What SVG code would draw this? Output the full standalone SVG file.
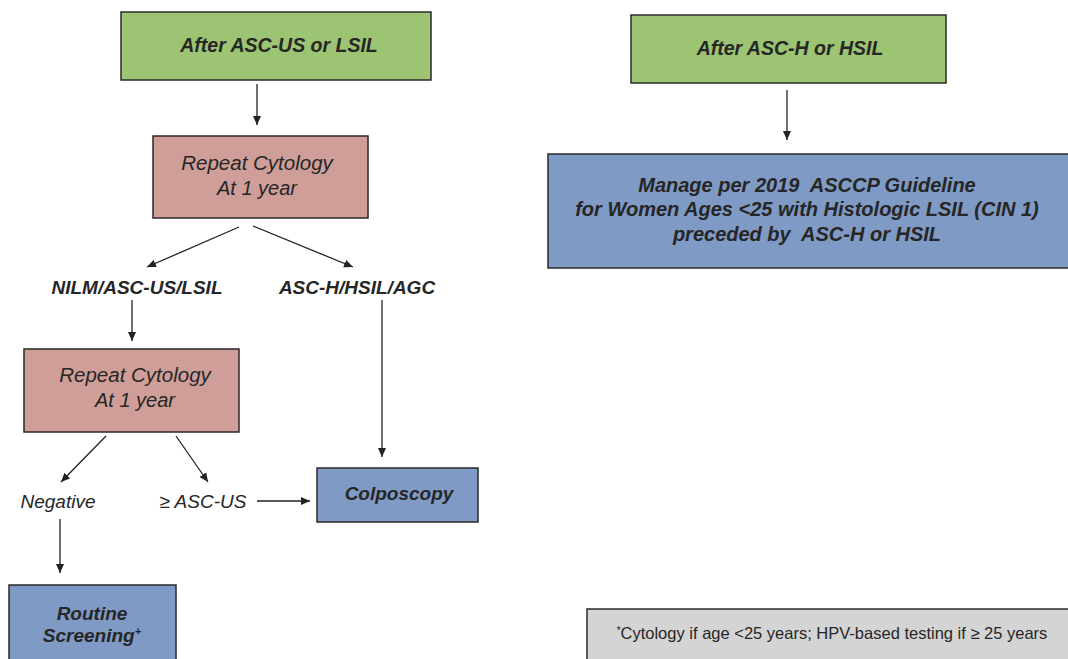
<svg xmlns="http://www.w3.org/2000/svg" width="1068" height="659" viewBox="0 0 1068 659">
<defs>
<marker id="ah" markerWidth="10" markerHeight="10" refX="9" refY="5" orient="auto" markerUnits="userSpaceOnUse">
<path d="M0,1 L9,5 L0,9 Z" fill="#222"/>
</marker>
<style>
.box{stroke:#2a2a2a;stroke-width:1.5}
.green{fill:#9CC472}
.pink{fill:#CF9E98}
.blue{fill:#7F9AC4}
.gray{fill:#D4D4D4}
.t{font-family:"Liberation Sans",Arial,sans-serif;font-style:italic;fill:#262626;text-anchor:middle;white-space:pre}
.b{font-weight:bold}
.c{stroke:#222;stroke-width:1.3;fill:none;marker-end:url(#ah)}
</style>
</defs>
<rect width="1068" height="659" fill="#fff"/>
<g id="connectors">
<line class="c" x1="257" y1="84" x2="257" y2="125"/>
<line class="c" x1="239" y1="227" x2="147" y2="267"/>
<line class="c" x1="253" y1="226" x2="353" y2="267"/>
<line class="c" x1="132" y1="300" x2="132" y2="341"/>
<line class="c" x1="382" y1="300" x2="382" y2="457"/>
<line class="c" x1="106" y1="436" x2="61" y2="482"/>
<line class="c" x1="176" y1="436" x2="208" y2="482"/>
<line class="c" x1="257" y1="501" x2="310" y2="501"/>
<line class="c" x1="60" y1="519" x2="60" y2="573"/>
<line class="c" x1="787" y1="90" x2="787" y2="140"/>
</g>
<g id="n1">
<rect class="box green" x="121" y="12" width="310" height="68"/>
<text class="t b" x="279" y="52" font-size="19.5">After ASC-US or LSIL</text>
</g>
<g id="n2">
<rect class="box pink" x="153" y="136" width="215" height="82"/>
<text class="t" x="257" y="170" font-size="20.5">Repeat Cytology</text>
<text class="t" x="257" y="195" font-size="20">At 1 year</text>
</g>
<g id="l1"><text class="t b" x="137" y="294" font-size="19">NILM/ASC-US/LSIL</text></g>
<g id="l2"><text class="t b" x="357" y="294" font-size="19">ASC-H/HSIL/AGC</text></g>
<g id="n3">
<rect class="box pink" x="24" y="349" width="215" height="83"/>
<text class="t" x="135" y="382" font-size="20.5">Repeat Cytology</text>
<text class="t" x="135" y="407" font-size="20">At 1 year</text>
</g>
<g id="l3"><text class="t" x="58" y="508" font-size="19">Negative</text></g>
<g id="l4"><text class="t" x="203" y="508" font-size="19">≥ ASC-US</text></g>
<g id="n4">
<rect class="box blue" x="317" y="468" width="161" height="54"/>
<text class="t b" x="399" y="500" font-size="19">Colposcopy</text>
</g>
<g id="n5">
<rect class="box blue" x="9" y="585" width="167" height="90"/>
<text class="t b" x="92" y="620" font-size="19">Routine</text>
<text class="t b" x="92" y="642" font-size="19">Screening<tspan font-size="11" dy="-7">+</tspan></text>
</g>
<g id="n6">
<rect class="box green" x="631" y="15" width="315" height="68"/>
<text class="t b" x="790" y="55" font-size="19.5">After ASC-H or HSIL</text>
</g>
<g id="n7">
<rect class="box blue" x="548" y="154" width="525" height="114"/>
<text class="t b" x="807" y="192" font-size="20">Manage per 2019  ASCCP Guideline</text>
<text class="t b" x="807" y="216" font-size="20">for Women Ages &lt;25 with Histologic LSIL (CIN 1)</text>
<text class="t b" x="807" y="241" font-size="20">preceded by  ASC-H or HSIL</text>
</g>
<g id="n8">
<rect class="box gray" x="587" y="609" width="490" height="60"/>
<text x="832" y="639" font-family="Liberation Sans,Arial,sans-serif" font-size="16.5" fill="#262626" text-anchor="middle"><tspan font-size="10" dy="-5">*</tspan><tspan dy="5">Cytology if age &lt;25 years; HPV-based testing if ≥ 25 years</tspan></text>
</g>
</svg>
